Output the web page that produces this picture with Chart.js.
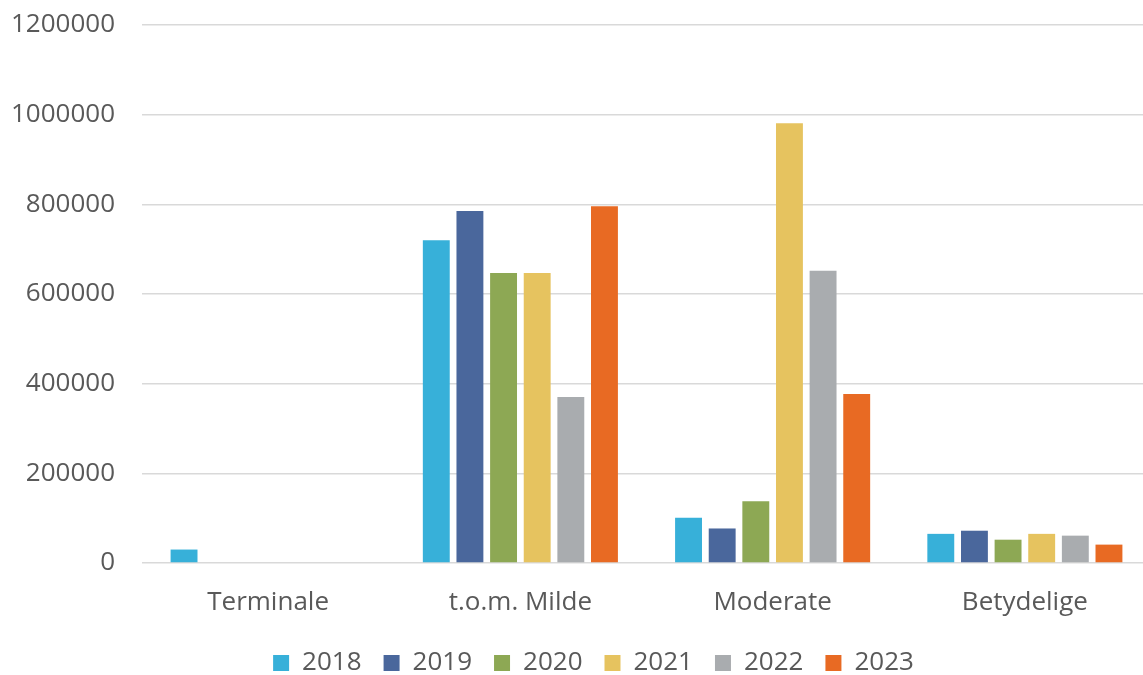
<!DOCTYPE html>
<html>
<head>
<meta charset="utf-8">
<script src="https://cdn.jsdelivr.net/npm/chart.js@4"></script>
<style>
html,body{margin:0;padding:0;background:#fff;overflow:hidden;}
#wrap{width:1143px;height:675px;overflow:hidden;}
</style>
</head>
<body>
<div id="wrap"><canvas id="c" width="1151" height="675"></canvas></div>
<script>
const categories = ["Terminale", "t.o.m. Milde", "Moderate", "Betydelige"];
const years = ["2018", "2019", "2020", "2021", "2022", "2023"];
const v2018 = [30000, 720000, 101000, 65000];
const v2019 = [0, 785000, 77000, 72000];
const v2020 = [0, 647000, 138000, 52000];
const v2021 = [0, 647000, 981000, 65000];
const v2022 = [0, 370000, 652000, 61000];
const v2023 = [0, 796000, 377000, 41000];
const yTicks = [0, 200000, 400000, 600000, 800000, 1000000, 1200000];
const colors = ["#37B0D9", "#4A679C", "#8DA854", "#E6C35F", "#A9ACAF", "#E86A23"];
const seriesValues = [v2018, v2019, v2020, v2021, v2022, v2023];
const FONT = "'Open Sans', 'Noto Sans', sans-serif";

const legendHeightPlugin = {
  id: 'legendHeight',
  afterInit(chart) {
    const lg = chart.legend;
    if (!lg) return;
    const origFit = lg.fit;
    lg.fit = function () {
      origFit.call(this);
      this.height = 47;
    };
    const origDraw = lg.draw;
    lg.draw = function () {
      const ctx = this.ctx;
      ctx.save();
      ctx.translate(18, 0);
      origDraw.call(this);
      ctx.restore();
    };
  }
};

new Chart(document.getElementById('c'), {
  type: 'bar',
  data: {
    labels: categories,
    datasets: years.map((y, i) => ({
      label: y,
      data: seriesValues[i],
      backgroundColor: colors[i],
      borderWidth: 0,
      categoryPercentage: 0.8,
      barPercentage: 0.8
    }))
  },
  plugins: [legendHeightPlugin],
  options: {
    responsive: false,
    animation: false,
    layout: { padding: { top: 25, right: 0, left: 0, bottom: 0 } },
    plugins: {
      legend: {
        position: 'bottom',
        labels: {
          font: { family: FONT, size: 26 },
          color: '#595959',
          boxWidth: 16,
          boxHeight: 16,
          padding: 22
        }
      },
      tooltip: { enabled: false }
    },
    scales: {
      x: {
        afterFit: (axis) => { axis.height = 65; },
        grid: { display: false, drawTicks: false },
        border: { display: false },
        ticks: {
          font: { family: FONT, size: 26 },
          color: '#595959',
          padding: 24
        }
      },
      y: {
        min: 0,
        max: 1200000,
        afterBuildTicks: (axis) => { axis.ticks = yTicks.map(v => ({ value: v })); },
        afterFit: (axis) => { axis.width = 142; },
        grid: { color: '#D9D9D9', lineWidth: 1.5, drawTicks: true, tickLength: 25, tickColor: 'rgba(0,0,0,0)' },
        border: { display: false },
        ticks: {
          font: { family: FONT, size: 26 },
          color: '#595959',
          padding: 2,
          callback: (v) => String(v)
        }
      }
    }
  }
});
</script>
</body>
</html>
